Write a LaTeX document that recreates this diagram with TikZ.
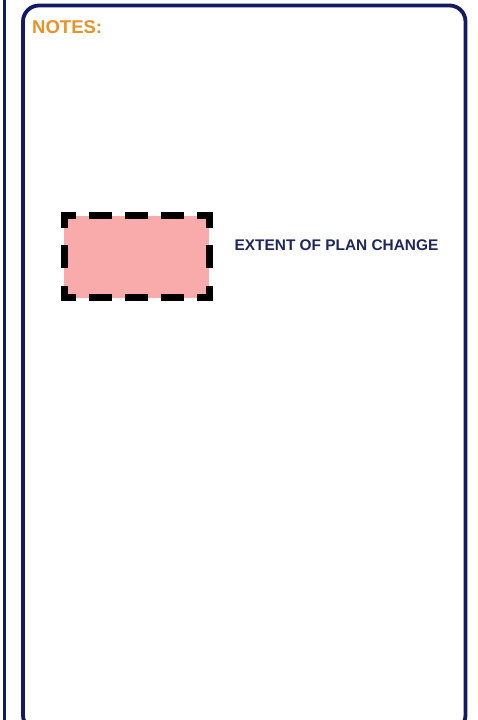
\documentclass[tikz,border=0pt]{standalone}
\usepackage{fontspec}
\setmainfont{Liberation Sans}
\definecolor{navy}{RGB}{18,26,100}
\definecolor{notesorange}{RGB}{232,146,40}
\definecolor{pinkfill}{RGB}{249,170,170}
\definecolor{labelnavy}{RGB}{30,38,96}
\tikzset{
  frameline/.style={draw=navy, line width=3.8pt},
  edgedash/.style={draw=black, line width=7pt, line cap=butt},
}
\begin{document}
\begin{tikzpicture}[x=1pt,y=1pt]
\useasboundingbox (0,0) rectangle (478,720);
\fill[white] (0,0) rectangle (478,720);
% left border line
\draw[frameline] (4.5,-5) -- (4.5,725);
% rounded frame
\draw[frameline, rounded corners=16pt] (23,720-5.5) rectangle (465.5,-11);
% notes title
\node[anchor=west, inner sep=0pt, text=notesorange, font=\bfseries\fontsize{18.5}{20}\selectfont] (notes) at (32,720-27) {NOTES:};
% legend box
\fill[pinkfill] (64,720-216) rectangle (209,720-298);
\coordinate (tl) at (60.5,720-216);
\coordinate (tr) at (212.5,720-216);
\coordinate (bl) at (60.5,720-298);
\coordinate (br) at (212.5,720-298);
\coordinate (lt) at (64,720-212.5);
\coordinate (lb) at (64,720-301.5);
\coordinate (rt) at (209,720-212.5);
\coordinate (rb) at (209,720-301.5);
\draw[edgedash, dash pattern=on 23pt off 13pt, dash phase=7.5pt] (tl) -- (tr);
\draw[edgedash, dash pattern=on 23pt off 13pt, dash phase=7.5pt] (bl) -- (br);
\draw[edgedash, dash pattern=on 23pt off 17.5pt, dash phase=7.5pt] (lt) -- (lb);
\draw[edgedash, dash pattern=on 23pt off 17.5pt, dash phase=7.5pt] (rt) -- (rb);
\node[anchor=west, inner sep=0pt, text=labelnavy, font=\bfseries\fontsize{15.4}{17}\selectfont] (extent) at (234.5,720-245) {EXTENT OF PLAN CHANGE};
\end{tikzpicture}
\end{document}
